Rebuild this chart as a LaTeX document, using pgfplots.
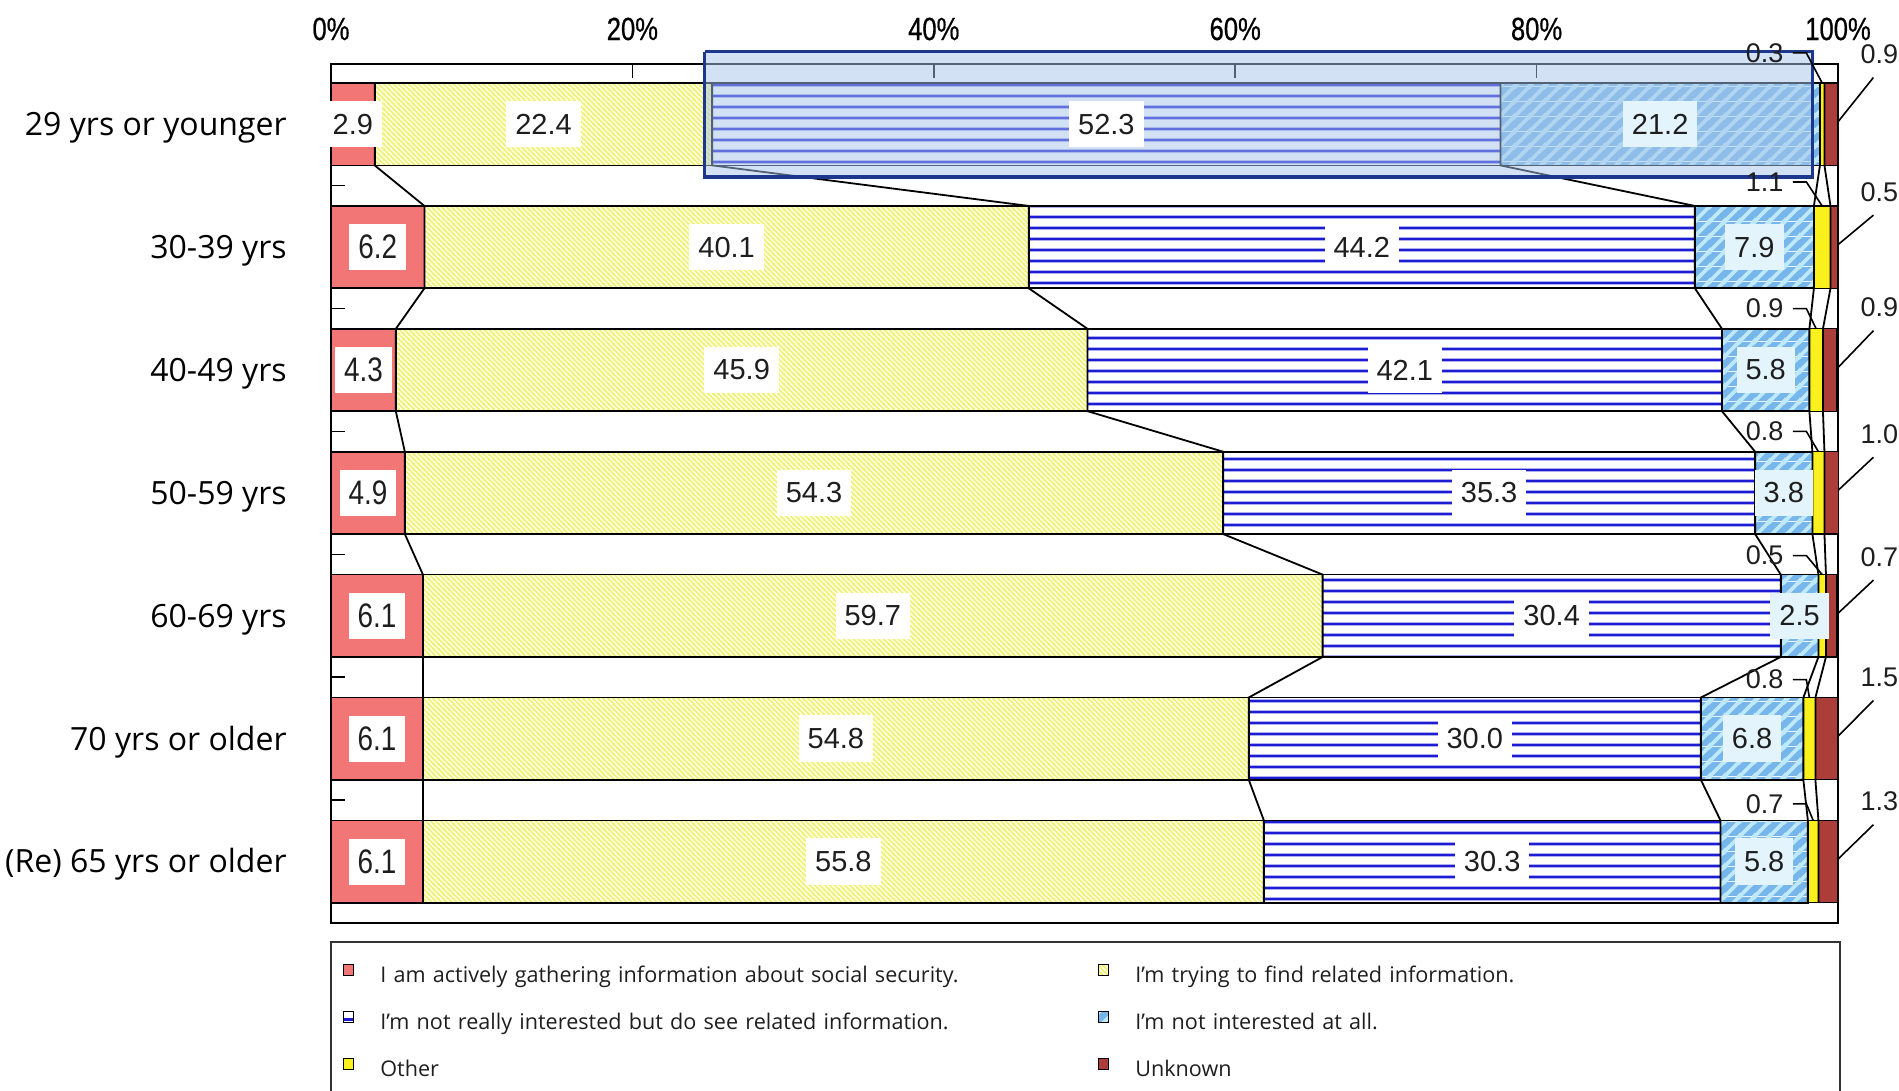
\documentclass[border=0pt]{standalone}
\usepackage{pgfplots}
\pgfplotsset{compat=1.18}
\usetikzlibrary{patterns}
\usepackage{fontspec}
\setmainfont{Open Sans}
\newfontfamily\numfont{Liberation Sans}
\newfontfamily\tickfont[FakeStretch=0.8,FakeBold=0.6]{Liberation Sans}
\newfontfamily\pinkfont[FakeStretch=0.82]{Liberation Sans}

\definecolor{cActive}{RGB}{242,118,118}
\definecolor{cTryBg}{RGB}{255,255,228}
\definecolor{cTryLn}{RGB}{240,240,115}
\definecolor{cNRLn}{RGB}{28,28,212}
\definecolor{cNABg}{RGB}{118,182,234}
\definecolor{cNALn}{RGB}{190,232,251}
\definecolor{cOther}{RGB}{250,240,30}
\definecolor{cUnk}{RGB}{172,62,58}
\definecolor{cHiFill}{RGB}{165,196,232}
\definecolor{cHiDraw}{RGB}{28,55,140}
\definecolor{cLabBlue}{RGB}{228,244,253}
\definecolor{cTxt}{RGB}{30,30,30}

% colored patterns (background + lines)
\pgfdeclarepatterninherentlycolored{trylines}
  {\pgfpointorigin}{\pgfpoint{2.4pt}{2.4pt}}{\pgfpoint{2.4pt}{2.4pt}}
  {%
    \pgfsetfillcolor{cTryBg}%
    \pgfpathrectangle{\pgfpointorigin}{\pgfpoint{2.4pt}{2.4pt}}%
    \pgfusepath{fill}%
    \pgfsetstrokecolor{cTryLn}%
    \pgfsetlinewidth{0.8pt}%
    \pgfpathmoveto{\pgfpoint{-0.5pt}{2.9pt}}\pgfpathlineto{\pgfpoint{2.9pt}{-0.5pt}}%
    \pgfpathmoveto{\pgfpoint{-0.5pt}{0.5pt}}\pgfpathlineto{\pgfpoint{0.5pt}{-0.5pt}}%
    \pgfpathmoveto{\pgfpoint{1.9pt}{2.9pt}}\pgfpathlineto{\pgfpoint{2.9pt}{1.9pt}}%
    \pgfusepath{stroke}%
  }
\pgfdeclarepatterninherentlycolored{nalines}
  {\pgfpointorigin}{\pgfpoint{7.5pt}{7.5pt}}{\pgfpoint{7.5pt}{7.5pt}}
  {%
    \pgfsetfillcolor{cNABg}%
    \pgfpathrectangle{\pgfpointorigin}{\pgfpoint{7.5pt}{7.5pt}}%
    \pgfusepath{fill}%
    \pgfsetstrokecolor{cNALn}%
    \pgfsetlinewidth{1.9pt}%
    \pgfpathmoveto{\pgfpoint{-1pt}{-1pt}}\pgfpathlineto{\pgfpoint{8.5pt}{8.5pt}}%
    \pgfpathmoveto{\pgfpoint{-1pt}{6.5pt}}\pgfpathlineto{\pgfpoint{1pt}{8.5pt}}%
    \pgfpathmoveto{\pgfpoint{6.5pt}{-1pt}}\pgfpathlineto{\pgfpoint{8.5pt}{1pt}}%
    \pgfusepath{stroke}%
  }
\pgfdeclarepatterninherentlycolored{nrlines}
  {\pgfpointorigin}{\pgfpoint{1000pt}{5.5pt}}{\pgfpoint{1000pt}{5.5pt}}
  {%
    \pgfsetfillcolor{white}%
    \pgfpathrectangle{\pgfpointorigin}{\pgfpoint{1000pt}{5.5pt}}%
    \pgfusepath{fill}%
    \pgfsetfillcolor{cNRLn}%
    \pgfpathrectangle{\pgfpoint{0pt}{2pt}}{\pgfpoint{1000pt}{1.5pt}}%
    \pgfusepath{fill}%
  }

\pgfplotsset{
  lab/.style={only marks, mark=*, mark size=0pt, mark options={draw=none,fill=none},
    point meta=explicit symbolic, nodes near coords,
    nodes near coords style={anchor=center, font=\numfont\fontsize{14.5}{15}\selectfont,
      text=cTxt, inner xsep=4.5pt, inner ysep=6.5pt, fill=#1}},
  smalllab/.style={only marks, mark=*, mark size=0pt, mark options={draw=none,fill=none},
    point meta=explicit symbolic, nodes near coords,
    nodes near coords style={anchor=#1, font=\numfont\fontsize{13.5}{14}\selectfont,
      text=cTxt, inner sep=0pt}},
  geom/.style={at={(165.5pt,84pt)}, anchor=south west, scale only axis,
    width=753.5pt, height=429.5pt, xmin=0, xmax=100, ymin=-0.49, ymax=6.5, y dir=reverse},
}

\begin{document}
\begin{tikzpicture}
\useasboundingbox (0,0) rectangle (949.5pt,545.5pt);
\begin{axis}[geom,
  xbar stacked, bar width=0.67,
  axis line style={line width=1pt},
  xtick={0,20,40,60,80,100},
  xticklabels={0\%,20\%,40\%,60\%,80\%,100\%},
  xtick pos=right, xticklabel pos=right,
  tick align=inside, major tick length=7pt,
  tick style={line width=0.8pt, black},
  xticklabel style={font=\tickfont\fontsize{16}{16}\selectfont, text=black, anchor=base, inner sep=0pt, yshift=12pt},
  ytick={0,1,2,3,4,5,6},
  yticklabels={29 yrs or younger,30-39 yrs,40-49 yrs,50-59 yrs,60-69 yrs,70 yrs or older,(Re) 65 yrs or older},
  ytick pos=left,
  yticklabel style={font=\fontsize{16}{19}\selectfont, anchor=east, inner sep=0pt, text height=11.4pt, text depth=0pt, xshift=-22pt},
  ytick style={draw=none},
  extra y ticks={0.5,1.5,2.5,3.5,4.5,5.5},
  extra y tick labels={},
  extra y tick style={ytick style={draw=black}},
  legend columns=2,
  legend cell align=left,
  legend image code/.code={\draw[#1, line width=0.5pt] (0pt,0.8pt) rectangle (5pt,6.3pt);},
  legend style={at={(axis description cs:0,0)}, anchor=north west, xshift=6pt, yshift=-20.3pt,
    draw=none, fill=none, inner sep=0pt, row sep=11.7pt,
    nodes={font=\fontsize{10.8}{13}\selectfont, text=cTxt, inner sep=0pt, text height=8pt, text depth=2.5pt, text width=359pt, align=left},
    /tikz/every odd column/.style={column sep=13pt}},
]
\addplot[fill=cActive, draw=black, line width=0.8pt]
  coordinates {(2.9,0) (6.2,1) (4.3,2) (4.9,3) (6.1,4) (6.1,5) (6.1,6)};
\addlegendentry{I am actively gathering information about social security.}
\addplot[pattern=trylines, draw=black, line width=0.8pt]
  coordinates {(22.4,0) (40.1,1) (45.9,2) (54.3,3) (59.7,4) (54.8,5) (55.8,6)};
\addlegendentry{I'm trying to find related information.}
\addplot[pattern=nrlines, draw=black, line width=0.8pt]
  coordinates {(52.3,0) (44.2,1) (42.1,2) (35.3,3) (30.4,4) (30.0,5) (30.3,6)};
\addlegendentry{I'm not really interested but do see related information.}
\addplot[pattern=nalines, draw=black, line width=0.8pt]
  coordinates {(21.2,0) (7.9,1) (5.8,2) (3.8,3) (2.5,4) (6.8,5) (5.8,6)};
\addlegendentry{I'm not interested at all.}
\addplot[fill=cOther, draw=black, line width=0.6pt]
  coordinates {(0.3,0) (1.1,1) (0.9,2) (0.8,3) (0.5,4) (0.8,5) (0.7,6)};
\addlegendentry{Other}
\addplot[fill=cUnk, draw=black, line width=0.6pt]
  coordinates {(0.9,0) (0.5,1) (0.9,2) (1.0,3) (0.7,4) (1.5,5) (1.3,6)};
\addlegendentry{Unknown}
\end{axis}

\begin{axis}[geom, hide axis, clip=false, unbounded coords=jump]
% series lines (cumulative boundaries)
\addplot[black, line width=0.9pt] coordinates {(2.9,-0.335)(2.9,0.335)(6.2,0.665)(6.2,1.335)(4.3,1.665)(4.3,2.335)(4.9,2.665)(4.9,3.335)(6.1,3.665)(6.1,4.335)(6.1,4.665)(6.1,5.335)(6.1,5.665)(6.1,6.335)};
\addplot[black, line width=0.9pt] coordinates {(25.3,-0.335)(25.3,0.335)(46.3,0.665)(46.3,1.335)(50.2,1.665)(50.2,2.335)(59.2,2.665)(59.2,3.335)(65.8,3.665)(65.8,4.335)(60.9,4.665)(60.9,5.335)(61.9,5.665)(61.9,6.335)};
\addplot[black, line width=0.9pt] coordinates {(77.6,-0.335)(77.6,0.335)(90.5,0.665)(90.5,1.335)(92.3,1.665)(92.3,2.335)(94.5,2.665)(94.5,3.335)(96.2,3.665)(96.2,4.335)(90.9,4.665)(90.9,5.335)(92.2,5.665)(92.2,6.335)};
\addplot[black, line width=0.9pt] coordinates {(98.8,-0.335)(98.8,0.335)(98.4,0.665)(98.4,1.335)(98.1,1.665)(98.1,2.335)(98.3,2.665)(98.3,3.335)(98.7,3.665)(98.7,4.335)(97.7,4.665)(97.7,5.335)(98.0,5.665)(98.0,6.335)};
\addplot[black, line width=0.9pt] coordinates {(99.1,-0.335)(99.1,0.335)(99.5,0.665)(99.5,1.335)(99.0,1.665)(99.0,2.335)(99.1,2.665)(99.1,3.335)(99.2,3.665)(99.2,4.335)(98.5,4.665)(98.5,5.335)(98.7,5.665)(98.7,6.335)};
% data labels
\addplot[lab=white] coordinates {(1.45,0)[2.9]};
\addplot[lab=white, nodes near coords style={font=\pinkfont\fontsize{17}{18}\selectfont, inner ysep=5.5pt}]
  coordinates {(3.1,1)[6.2] (2.15,2)[4.3] (2.45,3)[4.9] (3.05,4)[6.1] (3.05,5)[6.1] (3.05,6)[6.1]};
\addplot[lab=white] coordinates {(14.1,0)[22.4] (26.25,1)[40.1] (27.25,2)[45.9] (32.05,3)[54.3] (35.95,4)[59.7] (33.5,5)[54.8] (34.0,6)[55.8]};
\addplot[lab=white] coordinates {(51.45,0)[52.3] (68.4,1)[44.2] (71.25,2)[42.1] (76.85,3)[35.3] (81.0,4)[30.4] (75.9,5)[30.0] (77.05,6)[30.3]};
\addplot[lab=cLabBlue] coordinates {(88.2,0)[21.2] (94.45,1)[7.9] (95.2,2)[5.8] (96.4,3)[3.8] (97.45,4)[2.5] (94.3,5)[6.8] (95.1,6)[5.8]};
% highlight box
\addplot[draw=cHiDraw, line width=1.6pt, fill=cHiFill, fill opacity=0.5]
  coordinates {(24.8,-0.59)(98.3,-0.59)(98.3,0.43)(24.8,0.43)(24.8,-0.59)};
% "Other" leaders and labels
\addplot[black, line width=0.8pt] coordinates {
 (97.0,-0.58)(97.9,-0.58)(98.95,-0.335)(nan,nan)
 (97.0,0.47)(97.9,0.47)(98.95,0.665)(nan,nan)
 (97.0,1.5)(97.9,1.5)(98.55,1.665)(nan,nan)
 (97.0,2.5)(97.9,2.5)(98.7,2.665)(nan,nan)
 (97.0,3.51)(97.9,3.51)(98.95,3.665)(nan,nan)
 (97.0,4.52)(97.9,4.52)(98.1,4.665)(nan,nan)
 (97.0,5.53)(97.9,5.53)(98.35,5.665)};
\addplot[smalllab=east] coordinates {(96.4,-0.58)[0.3] (96.4,0.47)[1.1] (96.4,1.5)[0.9] (96.4,2.5)[0.8] (96.4,3.51)[0.5] (96.4,4.52)[0.8] (96.4,5.53)[0.7]};
% "Unknown" leaders and labels
\addplot[black, line width=0.8pt] coordinates {
 (100,-0.02)(102.35,-0.38)(nan,nan)
 (100,0.98)(102.35,0.74)(nan,nan)
 (100,1.98)(102.35,1.68)(nan,nan)
 (100,2.98)(102.35,2.71)(nan,nan)
 (100,3.98)(102.35,3.71)(nan,nan)
 (100,4.98)(102.35,4.69)(nan,nan)
 (100,5.98)(102.35,5.70)};
\addplot[smalllab=center] coordinates {(102.75,-0.57)[0.9] (102.75,0.55)[0.5] (102.75,1.49)[0.9] (102.75,2.52)[1.0] (102.75,3.52)[0.7] (102.75,4.50)[1.5] (102.75,5.51)[1.3]};
% legend frame
\draw[line width=0.8pt, black!80] ([yshift=-9.5pt]axis description cs:0,0) rectangle ([xshift=1pt,yshift=-140pt]axis description cs:1,0);
\end{axis}
\end{tikzpicture}
\end{document}
